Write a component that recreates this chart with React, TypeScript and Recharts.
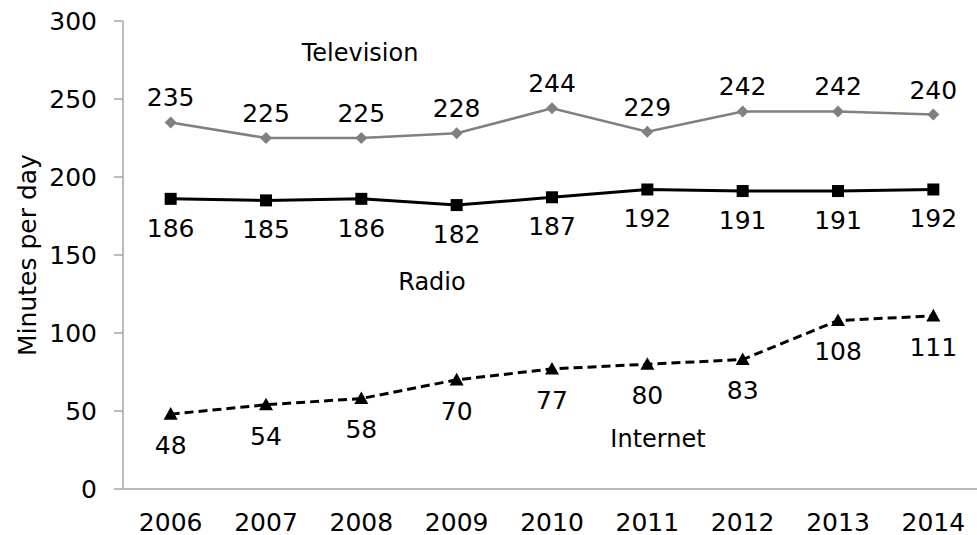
import React from 'react';
import { LineChart, Line, XAxis, YAxis, LabelList, Customized } from 'recharts';

const years = [2006, 2007, 2008, 2009, 2010, 2011, 2012, 2013, 2014];
const television = [235, 225, 225, 228, 244, 229, 242, 242, 240];
const radio = [186, 185, 186, 182, 187, 192, 191, 191, 192];
const internet = [48, 54, 58, 70, 77, 80, 83, 108, 111];
const yTicks = [0, 50, 100, 150, 200, 250, 300];
const boundaryTicks = [2005.5, 2006.5, 2007.5, 2008.5, 2009.5, 2010.5, 2011.5, 2012.5, 2013.5, 2014.5];

const data = years.map((year, i) => ({
  year,
  television: television[i],
  radio: radio[i],
  internet: internet[i],
}));

const FONT = '"DejaVu Sans", Verdana, sans-serif';
const FS = 25;
const AXIS = '#a6a6a6';

const Diamond = (props: any) => {
  const { cx, cy } = props;
  if (cx == null || cy == null) return <g key={props.key} />;
  const s = 6;
  return (
    <polygon
      key={props.key}
      points={`${cx},${cy - s} ${cx + s},${cy} ${cx},${cy + s} ${cx - s},${cy}`}
      fill="#808080"
    />
  );
};

const Square = (props: any) => {
  const { cx, cy } = props;
  if (cx == null || cy == null) return <g key={props.key} />;
  const s = 6;
  return <rect key={props.key} x={cx - s} y={cy - s} width={2 * s} height={2 * s} fill="#000" />;
};

const Triangle = (props: any) => {
  const { cx, cy } = props;
  if (cx == null || cy == null) return <g key={props.key} />;
  const s = 7;
  return (
    <polygon
      key={props.key}
      points={`${cx},${cy - s} ${cx + s},${cy + s * 0.8} ${cx - s},${cy + s * 0.8}`}
      fill="#000"
    />
  );
};

const SeriesNames = () => (
  <g fontFamily={FONT} fontSize={24} fill="#000">
    <text x={360} y={61} textAnchor="middle">Television</text>
    <text x={432} y={290} textAnchor="middle">Radio</text>
    <text x={658} y={447} textAnchor="middle">Internet</text>
  </g>
);

export default function App() {
  return (
    <div style={{ position: 'absolute', left: 0, top: 0, width: 977, height: 535, overflow: 'hidden', background: '#fff' }}>
      <LineChart
        width={985}
        height={535}
        data={data}
        margin={{ top: 21, right: 4, bottom: 44, left: 0 }}
      >
        <XAxis
          xAxisId="bounds"
          type="number"
          dataKey="year"
          domain={[2005.5, 2014.5]}
          ticks={boundaryTicks}
          tick={false}
          height={1}
          tickSize={9}
          axisLine={{ stroke: AXIS, strokeWidth: 1.5 }}
          tickLine={{ stroke: AXIS, strokeWidth: 1.5 }}
        />
        <XAxis
          xAxisId="main"
          type="number"
          dataKey="year"
          domain={[2005.5, 2014.5]}
          ticks={years}
          height={1}
          tickSize={9}
          tickMargin={14}
          interval={0}
          axisLine={false}
          tickLine={false}
          tick={{ fill: '#000', fontSize: FS, fontFamily: FONT }}
        />
        <YAxis
          domain={[0, 300]}
          ticks={yTicks}
          width={123}
          tickSize={9}
          tickMargin={17}
          axisLine={{ stroke: AXIS, strokeWidth: 1.5 }}
          tickLine={{ stroke: AXIS, strokeWidth: 1.5 }}
          tick={{ fill: '#000', fontSize: FS, fontFamily: FONT }}
          label={{
            value: 'Minutes per day',
            angle: -90,
            position: 'insideLeft',
            offset: 27,
            style: { textAnchor: 'middle', fill: '#000', fontSize: FS, fontFamily: FONT },
          }}
        />
        <Line
          xAxisId="main"
          dataKey="television"
          stroke="#808080"
          strokeWidth={2.5}
          dot={Diamond}
          isAnimationActive={false}
        >
          <LabelList dataKey="television" position="top" offset={16} fill="#000" fontSize={FS} fontFamily={FONT} />
        </Line>
        <Line
          xAxisId="main"
          dataKey="radio"
          stroke="#000"
          strokeWidth={3}
          dot={Square}
          isAnimationActive={false}
        >
          <LabelList dataKey="radio" position="bottom" offset={20} fill="#000" fontSize={FS} fontFamily={FONT} />
        </Line>
        <Line
          xAxisId="main"
          dataKey="internet"
          stroke="#000"
          strokeWidth={3}
          strokeDasharray="9 5"
          dot={Triangle}
          isAnimationActive={false}
        >
          <LabelList dataKey="internet" position="bottom" offset={22} fill="#000" fontSize={FS} fontFamily={FONT} />
        </Line>
        <Customized component={SeriesNames} />
      </LineChart>
    </div>
  );
}
